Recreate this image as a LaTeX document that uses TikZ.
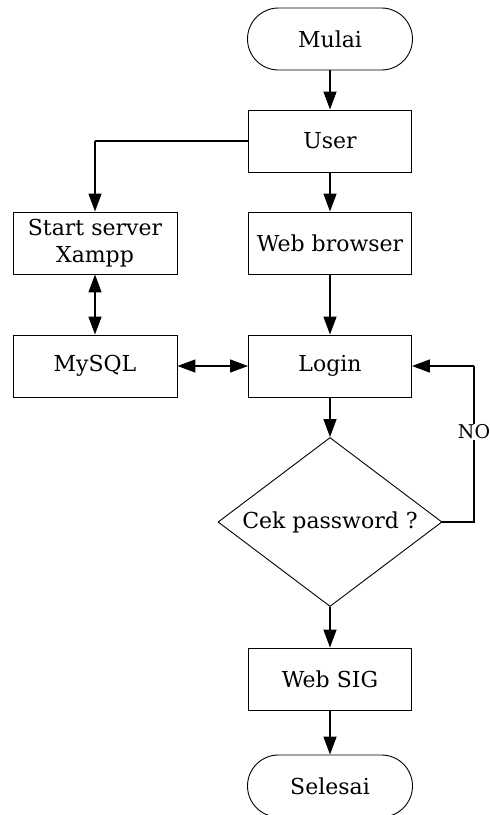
\documentclass[tikz,border=0pt]{standalone}
\usepackage{fontspec}
\setmainfont{DejaVu Serif}
\usetikzlibrary{shapes.geometric,arrows.meta}
\begin{document}
\begin{tikzpicture}[x=1pt,y=-1pt,
  every node/.style={font=\fontsize{22}{27}\selectfont},
  proc/.style={draw,line width=0.9pt,minimum width=163pt,minimum height=62pt,inner sep=0pt,align=center},
  term/.style={draw,line width=0.9pt,minimum width=165pt,minimum height=62pt,rounded corners=31pt,inner sep=0pt},
  decide/.style={draw,diamond,shape aspect=1.325,line width=0.9pt,minimum width=224pt,minimum height=169pt,inner sep=0pt},
  flow/.style={line width=1.4pt,-{Triangle[length=18pt,width=13pt]}},
  both/.style={line width=1.4pt,{Triangle[length=18pt,width=13pt]}-{Triangle[length=18pt,width=13pt]}},
  link/.style={line width=1.4pt},
  tag/.style={fill=white,inner sep=1pt,font=\fontsize{19}{23}\selectfont}]
\useasboundingbox (0,0) rectangle (490,815);
\node[term] (mulai) at (330,39) {Mulai};
\node[proc] (user) at (330,141) {User};
\node[proc,minimum width=164pt] (xampp) at (95,243) {Start server\\Xampp};
\node[proc] (browser) at (330,243) {Web browser};
\node[proc,minimum width=164pt] (mysql) at (95,366) {MySQL};
\node[proc] (login) at (330,366) {Login};
\node[decide] (cek) at (330,522) {Cek password ?};
\node[proc] (sig) at (330,679) {Web SIG};
\node[term] (selesai) at (330,786) {Selesai};
\coordinate (corner) at (95,141);
\coordinate (noright) at (474,522);
\coordinate (notop) at (474,366);
\draw[flow] (mulai) -- (user);
\draw[link] (user.west) -- (corner);
\draw[flow] (corner) -- (xampp.north);
\draw[flow] (user) -- (browser);
\draw[flow] (browser) -- (login);
\draw[both] (xampp) -- (mysql);
\draw[both] (mysql) -- (login);
\draw[flow] (login) -- (cek.north);
\draw[link] (cek.east) -- (noright) -- (notop);
\draw[flow] (notop) -- (login.east);
\node[tag] (no) at (474,432) {NO};
\draw[flow] (cek.south) -- (sig);
\draw[flow] (sig) -- (selesai);
\end{tikzpicture}
\end{document}
